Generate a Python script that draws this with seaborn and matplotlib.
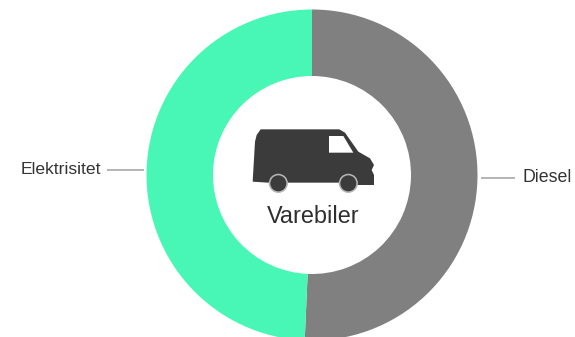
import matplotlib
matplotlib.use("Agg")
import matplotlib.pyplot as plt
import seaborn as sns
from matplotlib.patches import Polygon, Circle

categories = ["Diesel", "Elektrisitet"]
shares = [50.7, 49.3]
colors = ["#808080", "#48F7B6"]
center_label = "Varebiler"

sns.set_theme(style="white")
plt.rcParams["font.family"] = ["Liberation Sans", "DejaVu Sans"]

W, H = 575, 337
fig = plt.figure(figsize=(W / 100, H / 100), dpi=100, facecolor="white")
ax = fig.add_axes([0, 0, 1, 1])

def Y(y):
    return H - y

ax.pie(shares, colors=colors, startangle=90, counterclock=False,
       center=(312, Y(175)), radius=165.5,
       wedgeprops=dict(width=66.5, linewidth=0), frame=True)
ax.set_xlim(0, W)
ax.set_ylim(0, H)
ax.set_aspect("equal")
ax.axis("off")

# leader lines and labels
ax.plot([107, 144], [Y(170), Y(170)], color="#a8a8a8", lw=1.2, solid_capstyle="butt")
ax.plot([481, 515], [Y(178), Y(178)], color="#a8a8a8", lw=1.2, solid_capstyle="butt")
ax.text(21, Y(170), categories[1], fontsize=12.6, color="#333333", ha="left", va="center")
ax.text(523, Y(177.5), categories[0], fontsize=12.8, color="#333333", ha="left", va="center")

# van icon
def Z(zx, zy):
    return (230 + zx / 3, Y(110 + zy / 3))

body = [(68, 215), (75, 95), (80, 75), (92, 58), (328, 58), (345, 68), (385, 125), (420, 145),
        (432, 165), (425, 180), (432, 195), (432, 225), (380, 225), (330, 218), (170, 218), (115, 218)]
window = [(297, 78), (340, 78), (370, 128), (297, 128)]
van = "#3b3b3b"
ax.add_patch(Polygon([Z(*p) for p in body], closed=True, fc=van, ec="none", zorder=3))
ax.add_patch(Polygon([Z(*p) for p in window], closed=True, fc="white", ec="none", zorder=4))
for wx in (145, 355):
    ax.add_patch(Circle(Z(wx, 220), 9.6, fc="#b5b5b5", ec="none", zorder=4))
    ax.add_patch(Circle(Z(wx, 220), 8, fc=van, ec="none", zorder=5))

ax.text(313, Y(216.5), center_label, fontsize=16.9, color="#2e2e2e", ha="center", va="center")

fig.savefig("out.png", dpi=100, facecolor="white")
